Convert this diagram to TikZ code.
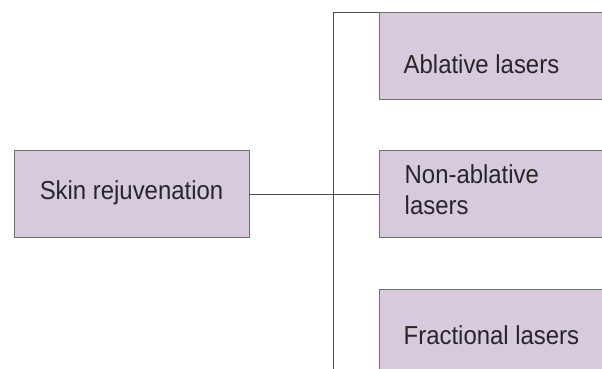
\documentclass[tikz,border=0pt]{standalone}
\usepackage{fontspec}
\setmainfont[FakeStretch=0.92]{Liberation Sans}
\usepackage{tikz}

\definecolor{boxfill}{RGB}{216,202,221}
\definecolor{boxline}{RGB}{110,110,110}
\definecolor{txt}{RGB}{38,38,38}

\begin{document}
\begin{tikzpicture}[x=1pt,y=-1pt,
	box/.style={draw=boxline,fill=boxfill,line width=1pt,inner sep=0pt,outer sep=0pt,
		minimum height=87pt,anchor=north west},
	lbl/.style={text=txt,inner sep=0pt,font=\fontsize{26}{31}\selectfont},
	link/.style={draw=black!70,line width=1pt}]
	\useasboundingbox (0,0) rectangle (602,369);
	\clip (0,0) rectangle (602,369);
	% boxes
	\node[box,minimum width=235pt] (skin) at (14,150.5) {};
	\node[box,minimum width=250pt] (abl) at (379,12.7) {};
	\node[box,minimum width=250pt] (non) at (379,150.5) {};
	\node[box,minimum width=250pt] (frac) at (379,289) {};
	% texts
	\node[lbl,anchor=base] (skintxt) at (131.5,199.3) {Skin rejuvenation};
	\node[lbl,anchor=base west] (abltxt) at (403.5,74) {Ablative lasers};
	\node[lbl,anchor=base west,align=left] (nontxt) at (404.5,214.3) {Non-ablative\\lasers};
	\node[lbl,anchor=base west] (fractxt) at (403.5,344) {Fractional lasers};
	% connectors
	\coordinate (bot) at (333.5,369);
	\draw[link] (abl.north west) -| (bot);
	\draw[link] (skin.east) -- (non.west);
\end{tikzpicture}
\end{document}
